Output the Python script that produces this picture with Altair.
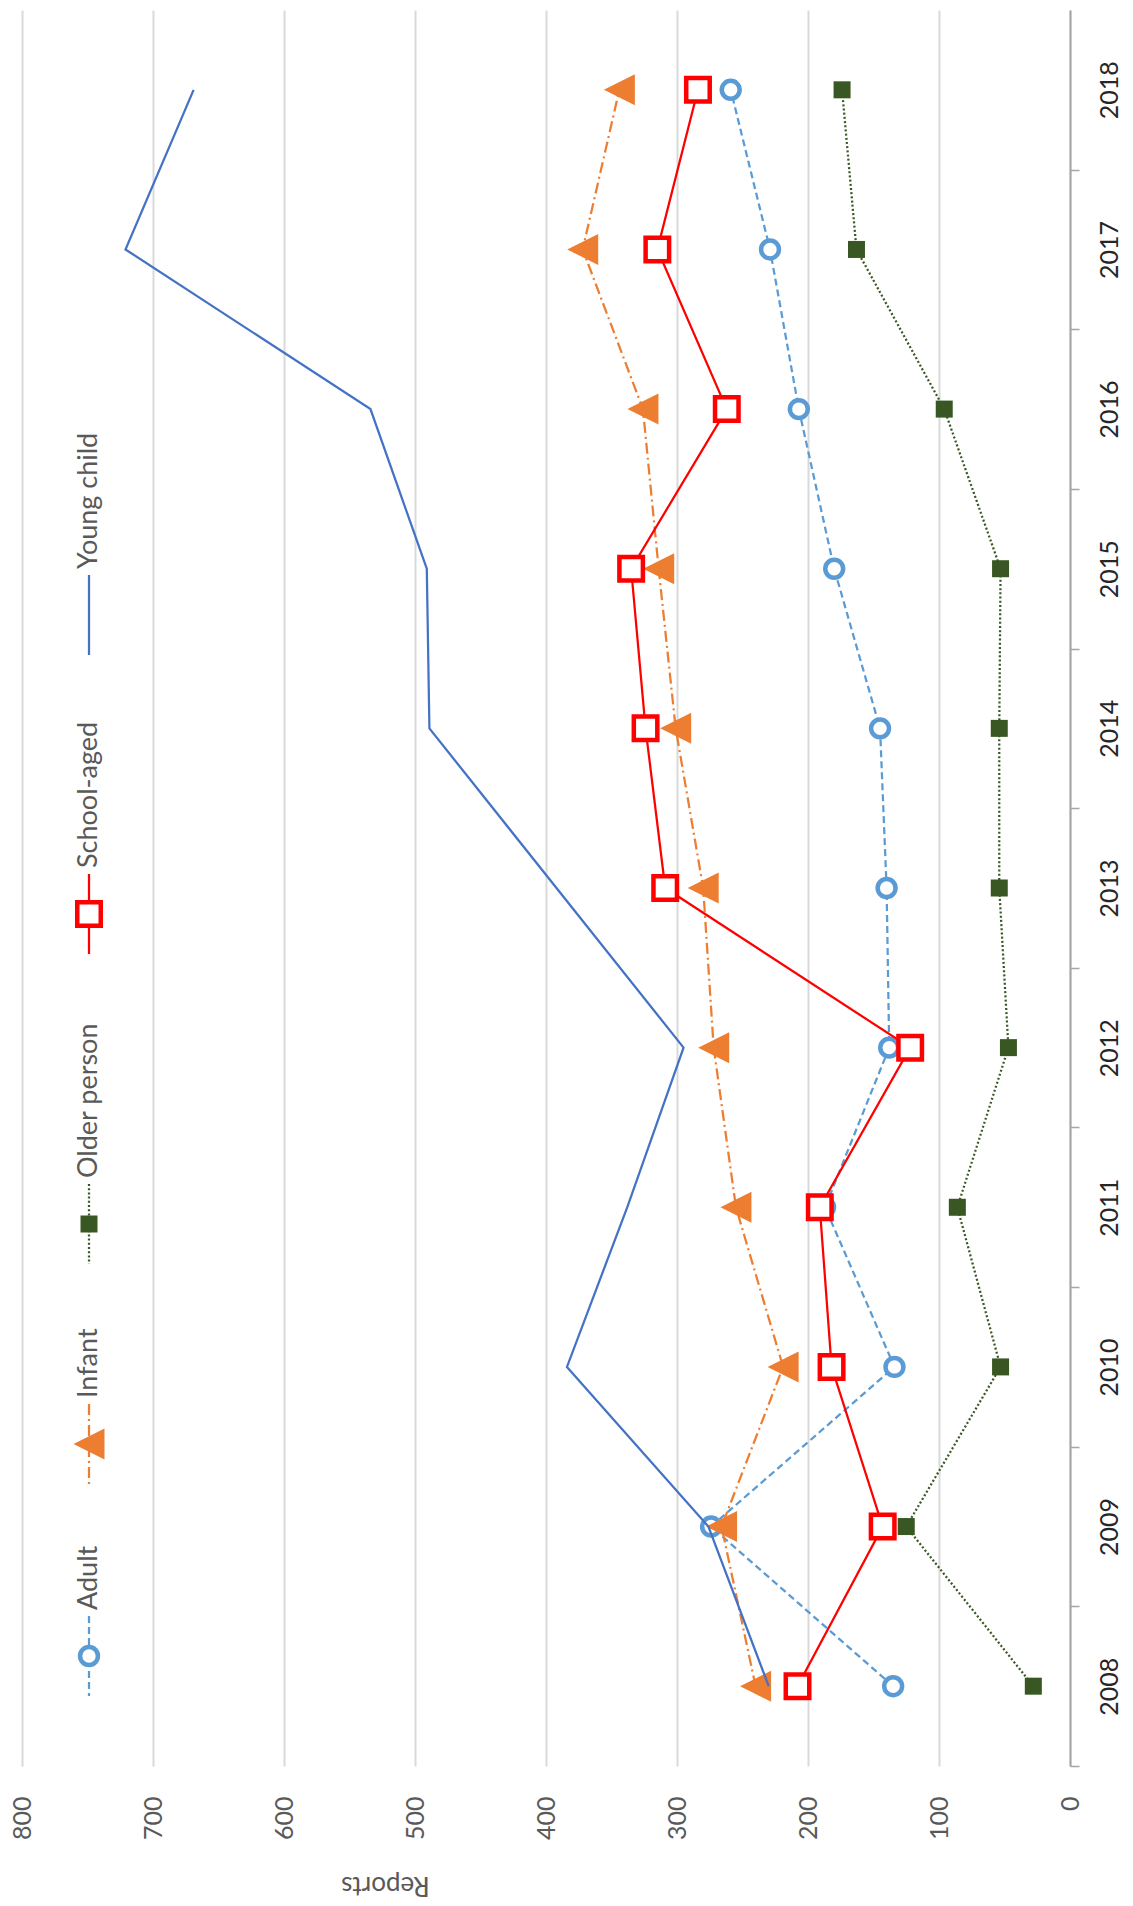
import altair as alt
import pandas as pd

# ---------------- data ----------------
years = [2008, 2009, 2010, 2011, 2012, 2013, 2014, 2015, 2016, 2017, 2018]
adult = [135, 274, 134, 187, 138, 140, 145, 180, 207, 229, 259]
infant = [240, 266, 219, 255, 272, 280, 301, 314, 326, 372, 344]
older_person = [28, 125, 53, 86, 47, 54, 54, 53, 96, 163, 174]
school_aged = [208, 143, 182, 191, 122, 309, 324, 335, 262, 315, 284]
young_child = [230, 276, 384, 338, 295, 392, 489, 491, 534, 721, 669]
series_names = ["Adult", "Infant", "Older person", "School-aged", "Young child"]
report_ticks = [0, 100, 200, 300, 400, 500, 600, 700, 800]
axis_title = "Reports"

series_values = {
    "Adult": adult,
    "Infant": infant,
    "Older person": older_person,
    "School-aged": school_aged,
    "Young child": young_child,
}

# ---------------- styles / layout ----------------
FONT = "Lato"
W, H = 1048, 1756
BAND = H / len(years)

styles = {
    "Adult": dict(color="#5B9BD5", dash=[7, 4], width=2.25,
                  shape="circle", size=320, fill="white", sw=4.5),
    "Infant": dict(color="#ED7D31", dash=[11, 4, 2, 4], width=2.25,
                   shape="M1,-1L-1,0L1,1Z", size=961, fill="#ED7D31", sw=0),
    "Older person": dict(color="#385723", dash=[2, 2.2], width=2.25,
                         shape="square", size=289, fill="#385723", sw=0),
    "School-aged": dict(color="#FF0000", dash=None, width=2.25,
                        shape="square", size=552, fill="white", sw=4.5),
    "Young child": dict(color="#4472C4", dash=None, width=2.25,
                        shape=None, size=0, fill=None, sw=0),
}

# legend placement (pixels inside the plot area; the chart is drawn rotated)
LEG_X = 67
legend_sym_y = {"Young child": 605, "School-aged": 904, "Older person": 1214,
                "Infant": 1434, "Adult": 1646}
LEG_HALF = 40
LEG_GAP = 46

x_scale = alt.Scale(domain=[0, 800], reverse=True, nice=False, zero=True)
y_scale = alt.Scale(domain=[2007.5, 2018.5], nice=False, zero=False)

x_axis = alt.Axis(
    values=report_ticks, orient="bottom", domain=False, ticks=False,
    grid=True, gridColor="#D9D9D9", gridWidth=2,
    labelAngle=270, labelAlign="right", labelBaseline="middle",
    labelPadding=30, labelFontSize=25, labelColor="#595959", labelFont=FONT,
    labelFlush=False, labelOverlap=False,
    title=axis_title, titleAngle=180, titleX=363, titleY=118,
    titleAlign="center", titleBaseline="middle", titleFontSize=26,
    titleFontWeight="normal", titleColor="#595959", titleFont=FONT,
)
y_axis = alt.Axis(
    values=years, format="d", orient="right", grid=False,
    domain=True, domainColor="#A6A6A6", domainWidth=2,
    ticks=True, tickColor="#A6A6A6", tickSize=9, tickWidth=1.5,
    tickOffset=BAND / 2, labelOffset=-BAND / 2,
    labelAngle=270, labelAlign="center", labelBaseline="top",
    labelPadding=18, labelFontSize=25, labelColor="#262626", labelFont=FONT,
    labelFlush=False, labelOverlap=False, title=None,
)

enc_x = alt.X("reports:Q", scale=x_scale, axis=x_axis)
enc_y = alt.Y("year:Q", scale=y_scale, axis=y_axis)
enc_order = alt.Order("year:Q")

layers = []
for name in series_names:
    st = styles[name]
    df = pd.DataFrame({"year": years, "reports": series_values[name], "series": name})
    line_kwargs = dict(color=st["color"], strokeWidth=st["width"], strokeCap="butt")
    if st["dash"]:
        line_kwargs["strokeDash"] = st["dash"]
    layers.append(
        alt.Chart(df).mark_line(**line_kwargs).encode(x=enc_x, y=enc_y, order=enc_order)
    )
    if st["shape"]:
        pk = dict(shape=st["shape"], size=st["size"], filled=True, fill=st["fill"],
                  opacity=1)
        if st["sw"] > 0:
            pk.update(stroke=st["color"], strokeWidth=st["sw"])
        else:
            pk.update(strokeWidth=0)
        layers.append(alt.Chart(df).mark_point(**pk).encode(x=enc_x, y=enc_y))

# ---------------- custom rotated legend ----------------
for name in series_names:
    st = styles[name]
    sy = legend_sym_y[name]
    ldf = pd.DataFrame({"label": [name]})
    rk = dict(color=st["color"], strokeWidth=st["width"], strokeCap="butt")
    if st["dash"]:
        rk["strokeDash"] = st["dash"]
    layers.append(
        alt.Chart(ldf).mark_rule(**rk).encode(
            x=alt.value(LEG_X), y=alt.value(sy - LEG_HALF), y2=alt.value(sy + LEG_HALF)
        )
    )
    if st["shape"]:
        pk = dict(shape=st["shape"], size=st["size"], filled=True, fill=st["fill"],
                  opacity=1)
        if st["sw"] > 0:
            pk.update(stroke=st["color"], strokeWidth=st["sw"])
        else:
            pk.update(strokeWidth=0)
        layers.append(
            alt.Chart(ldf).mark_point(**pk).encode(x=alt.value(LEG_X), y=alt.value(sy))
        )
    layers.append(
        alt.Chart(ldf).mark_text(
            angle=270, align="left", baseline="middle", fontSize=27,
            color="#595959", font=FONT,
        ).encode(x=alt.value(LEG_X), y=alt.value(sy - LEG_GAP), text="label:N")
    )

chart = (
    alt.layer(*layers)
    .properties(
        width=W, height=H,
        autosize=alt.AutoSizeParams(type="none"),
        padding={"left": 14, "top": 2, "right": 55, "bottom": 140},
        background="white",
    )
    .configure_view(stroke=None)
)

chart.save("out.html", embed_options={"renderer": "svg", "actions": False})
